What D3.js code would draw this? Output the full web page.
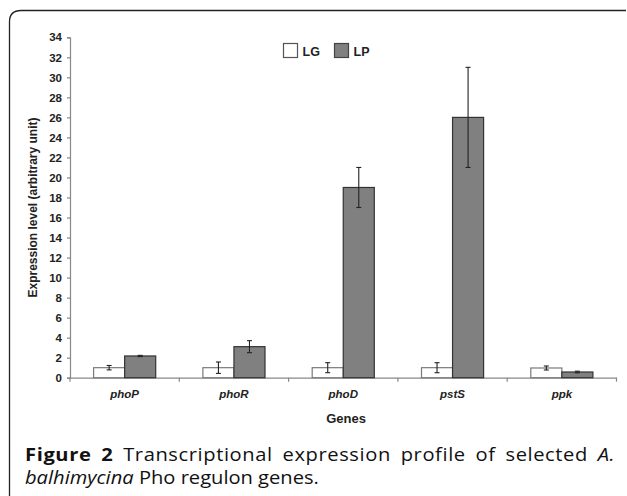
<!DOCTYPE html>
<html><head><meta charset="utf-8">
<script src="https://cdn.jsdelivr.net/npm/d3@7"></script>
<style>
body{margin:0;background:#fff;}
svg{display:block;}
</style></head>
<body><svg id="c" width="627" height="496"></svg>
<script>
const genes = ["phoP","phoR","phoD","pstS","ppk"];
const series = ["LG","LP"];
const lgValues = [1.0, 1.0, 1.0, 1.0, 0.97];
const lgErrors = [0.22, 0.57, 0.5, 0.5, 0.2];
const lpValues = [2.17, 3.1, 19.0, 26.0, 0.57];
const lpErrors = [0.06, 0.6, 2.0, 5.0, 0.08];
const yTicks = d3.range(0, 35, 2);
const seriesFill = ["#ffffff", "#808080"];
const seriesStroke = ["#7a7a7a", "#333333"];

const svg = d3.select("#c");
const X0 = 70, X1 = 616.5, Y0 = 377.7, Y1 = 37.3;
const FONT = "Liberation Sans, Arial, sans-serif";

// frame
svg.append("path").attr("d","M9.5,496 V22 Q9.5,10.5 21,10.5 H626")
  .attr("fill","none").attr("stroke","#222").attr("stroke-width",1.3);

const x = d3.scaleBand().domain(genes).range([X0, X1]).paddingInner(0).paddingOuter(0);
const xs = d3.scaleBand().domain(series).range([0, x.bandwidth()]).paddingInner(0).paddingOuter(0.76);
const y = d3.scaleLinear().domain([0, 34]).range([Y0, Y1]);

// y axis
const ya = svg.append("g").attr("transform",`translate(${X0},0)`)
  .call(d3.axisLeft(y).tickValues(yTicks).tickSize(3).tickPadding(5));
ya.select(".domain").attr("stroke","#888").attr("stroke-width",1.2);
ya.selectAll(".tick line").attr("stroke","#888").attr("stroke-width",1.2);
ya.selectAll(".tick text").attr("font-family",FONT)
  .attr("font-size",11.5).attr("font-weight","bold").attr("fill","#222");

// x axis
const xa = svg.append("g").attr("transform",`translate(0,${Y0})`)
  .call(d3.axisBottom(x).tickSize(0).tickPadding(12));
xa.select(".domain").attr("stroke","#888").attr("stroke-width",1.2);
xa.selectAll(".tick text").attr("font-family",FONT)
  .attr("font-size",11.5).attr("font-weight","bold").attr("font-style","italic").attr("fill","#222");
// category boundary ticks
const bounds = genes.map(g => x(g)).concat([X1]);
svg.append("g").selectAll("line").data(bounds).join("line")
  .attr("x1", d=>d).attr("x2", d=>d).attr("y1", Y0).attr("y2", Y0+4)
  .attr("stroke","#888").attr("stroke-width",1.2);

// bars
const data = [];
genes.forEach((g,i)=>{
  data.push({g, s:"LG", si:0, v:lgValues[i], e:lgErrors[i]});
  data.push({g, s:"LP", si:1, v:lpValues[i], e:lpErrors[i]});
});
svg.append("g").selectAll("rect").data(data).join("rect")
  .attr("x", d=>x(d.g)+xs(d.s)).attr("width", xs.bandwidth())
  .attr("y", d=>y(d.v)).attr("height", d=>Y0-y(d.v))
  .attr("fill", d=>seriesFill[d.si]).attr("stroke", d=>seriesStroke[d.si]).attr("stroke-width",1.2);

// error bars
const eb = svg.append("g").attr("stroke","#222").attr("stroke-width",1.1);
data.forEach(d=>{
  const cx = x(d.g)+xs(d.s)+xs.bandwidth()/2;
  eb.append("line").attr("x1",cx).attr("x2",cx).attr("y1",y(d.v+d.e)).attr("y2",y(d.v-d.e));
  eb.append("line").attr("x1",cx-2.5).attr("x2",cx+2.5).attr("y1",y(d.v+d.e)).attr("y2",y(d.v+d.e));
  eb.append("line").attr("x1",cx-2.5).attr("x2",cx+2.5).attr("y1",y(d.v-d.e)).attr("y2",y(d.v-d.e));
});

// legend
const legX = [283.5, 334.5];
series.forEach((s,i)=>{
  svg.append("rect").attr("x",legX[i]).attr("y",43.5).attr("width",14).attr("height",14)
    .attr("fill",seriesFill[i]).attr("stroke", i===0?"#555":"#444").attr("stroke-width",1.2);
  svg.append("text").attr("x",legX[i]+19).attr("y",55.5).text(s)
    .attr("font-family",FONT).attr("font-size",12.5)
    .attr("font-weight","bold").attr("fill","#222");
});

// axis titles
svg.append("text").attr("transform",`translate(37,${(Y0+Y1)/2}) rotate(-90)`)
  .attr("text-anchor","middle").text("Expression level (arbitrary unit)")
  .attr("font-family",FONT).attr("font-size",12)
  .attr("font-weight","bold").attr("fill","#222");
svg.append("text").attr("x",346).attr("y",422.5).attr("text-anchor","middle").text("Genes")
  .attr("font-family",FONT).attr("font-size",13)
  .attr("font-weight","bold").attr("fill","#222");

// caption
const CAPF = "Open Sans, Noto Sans, sans-serif";
const CAP_X = 25, CAP_FS = 17.5;
const cap2 = svg.append("text").attr("x",0).attr("y",0)
  .attr("font-family",CAPF).attr("font-size",CAP_FS).attr("fill","#111");
cap2.append("tspan").attr("font-style","italic").text("balhimycina");
cap2.append("tspan").text(" Pho regulon genes.");
const w2 = cap2.node().getComputedTextLength();
const k = 294 / w2;
cap2.attr("transform", `translate(${CAP_X},484) scale(${k},1)`);

const cap1 = svg.append("text").attr("x",0).attr("y",0)
  .attr("font-family",CAPF).attr("font-size",CAP_FS).attr("fill","#111");
cap1.append("tspan").attr("font-weight","bold").text("Figure 2");
cap1.append("tspan").text(" Transcriptional expression profile of selected ");
cap1.append("tspan").attr("font-style","italic").text("A.");
const w1 = cap1.node().getComputedTextLength();
const nChars = cap1.text().length;
const extra = Math.max(0, 590 / k - w1);
cap1.attr("letter-spacing", (extra * 0.55) / (nChars - 1))
  .attr("word-spacing", (extra * 0.45) / 7)
  .attr("transform", `translate(${CAP_X},461) scale(${k},1)`);
</script></body></html>
